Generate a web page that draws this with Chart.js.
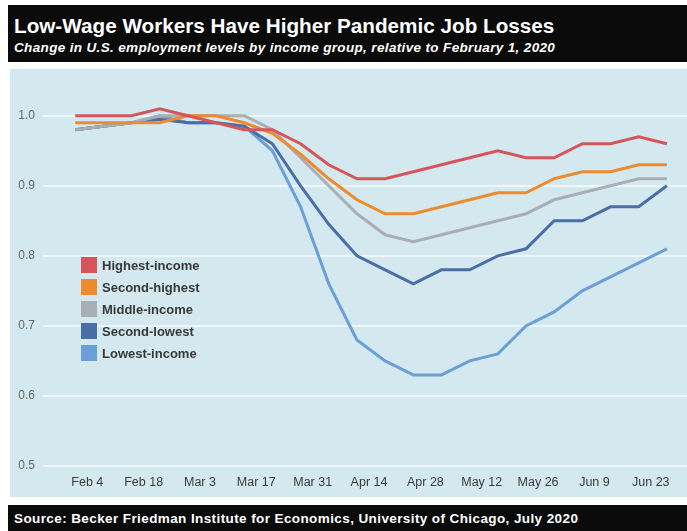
<!DOCTYPE html>
<html>
<head>
<meta charset="utf-8">
<script src="https://cdn.jsdelivr.net/npm/chart.js@4/dist/chart.umd.min.js"></script>
<style>
  body { margin: 0; width: 687px; height: 531px; background: #fff; position: relative; overflow: hidden; font-family: "Liberation Sans", Arial, sans-serif; }
  #header { position: absolute; left: 8px; top: 5px; width: 679px; height: 57px; background: #0b0b0b; color: #fff; }
  #title { position: absolute; left: 6px; top: 9px; font-size: 20.7px; font-weight: bold; white-space: nowrap; }
  #subtitle { position: absolute; left: 6px; top: 35px; font-size: 13.5px; font-weight: bold; font-style: italic; letter-spacing: 0.35px; white-space: nowrap; }
  #panel { position: absolute; left: 10px; top: 69px; width: 677px; height: 428px; background: #d4e9ef; }
  #wrap { position: absolute; left: 0; top: 69px; width: 687px; height: 428px; }
  #footer { position: absolute; left: 8px; top: 505px; width: 679px; height: 26px; background: #0b0b0b; color: #fff; }
  #source { position: absolute; left: 6px; top: 6px; font-size: 13.5px; font-weight: bold; letter-spacing: 0.4px; white-space: nowrap; }
</style>
</head>
<body>
<div id="header">
  <div id="title">Low-Wage Workers Have Higher Pandemic Job Losses</div>
  <div id="subtitle">Change in U.S. employment levels by income group, relative to February 1, 2020</div>
</div>
<div id="panel"></div>
<div id="wrap"><canvas id="jobChart" width="687" height="428"></canvas></div>
<div id="footer">
  <div id="source">Source: Becker Friedman Institute for Economics, University of Chicago, July 2020</div>
</div>
<script>
// weekly observations
const weekDates = ['2020-02-01', '2020-02-08', '2020-02-15', '2020-02-22', '2020-02-29', '2020-03-07',
    '2020-03-14', '2020-03-21', '2020-03-28', '2020-04-04', '2020-04-11', '2020-04-18', '2020-04-25',
    '2020-05-02', '2020-05-09', '2020-05-16', '2020-05-23', '2020-05-30', '2020-06-06', '2020-06-13',
    '2020-06-20', '2020-06-27'];

const tickDates = ['2020-02-04', '2020-02-18', '2020-03-03', '2020-03-17', '2020-03-31', '2020-04-14',
    '2020-04-28', '2020-05-12', '2020-05-26', '2020-06-09', '2020-06-23'];
const tickLabels = ['Feb 4', 'Feb 18', 'Mar 3', 'Mar 17', 'Mar 31', 'Apr 14', 'Apr 28', 'May 12', 'May 26', 'Jun 9', 'Jun 23'];

const seriesNames = ['Highest-income', 'Second-highest', 'Middle-income', 'Second-lowest', 'Lowest-income'];
const seriesColors = ['#d6555b', '#ef8a2d', '#a9aeb5', '#4a6ea5', '#6aa0d5'];

const highest = [1.00, 1.00, 1.00, 1.01, 1.00, 0.99, 0.98, 0.98, 0.96, 0.93, 0.91, 0.91, 0.92, 0.93, 0.94, 0.95, 0.94, 0.94, 0.96, 0.96, 0.97, 0.96];
const secondHighest = [0.99, 0.99, 0.99, 0.99, 1.00, 1.00, 0.99, 0.975, 0.945, 0.91, 0.88, 0.86, 0.86, 0.87, 0.88, 0.89, 0.89, 0.91, 0.92, 0.92, 0.93, 0.93];
const middle = [0.98, 0.985, 0.99, 1.00, 1.00, 1.00, 1.00, 0.98, 0.94, 0.90, 0.86, 0.83, 0.82, 0.83, 0.84, 0.85, 0.86, 0.88, 0.89, 0.90, 0.91, 0.91];
const secondLowest = [0.98, 0.985, 0.99, 0.995, 0.99, 0.99, 0.985, 0.96, 0.90, 0.845, 0.80, 0.78, 0.76, 0.78, 0.78, 0.80, 0.81, 0.85, 0.85, 0.87, 0.87, 0.90];
const lowest = [0.98, 0.985, 0.99, 1.00, 0.99, 0.99, 0.985, 0.95, 0.87, 0.76, 0.68, 0.65, 0.63, 0.63, 0.65, 0.66, 0.70, 0.72, 0.75, 0.77, 0.79, 0.81];

const yTicks = [0.5, 0.6, 0.7, 0.8, 0.9, 1.0];

const start = Date.UTC(2020, 1, 1);
function dayOf(s) {
    const p = s.split('-');
    return Math.round((Date.UTC(+p[0], +p[1] - 1, +p[2]) - start) / 86400000);
}

const tickDays = tickDates.map(dayOf);
const allSeries = [highest, secondHighest, middle, secondLowest, lowest];

const datasets = allSeries.map((vals, i) => ({
    label: seriesNames[i],
    data: vals.map((v, j) => ({ x: dayOf(weekDates[j]), y: v })),
    borderColor: seriesColors[i],
    backgroundColor: seriesColors[i],
    borderWidth: 3,
    pointRadius: 0,
    tension: 0
}));

// legend drawn inside the plot, left side
const boxLegend = {
    id: 'boxLegend',
    afterDatasetsDraw(chart) {
        const ctx = chart.ctx;
        ctx.save();
        ctx.font = 'bold 13px "Liberation Sans", Arial, sans-serif';
        ctx.textBaseline = 'middle';
        seriesNames.forEach((name, i) => {
            const y = 196 + i * 22;
            ctx.fillStyle = seriesColors[i];
            ctx.fillRect(81, y - 8, 16, 16);
            ctx.fillStyle = '#383838';
            ctx.fillText(name, 102, y + 1);
        });
        ctx.restore();
    }
};

const ctx = document.getElementById('jobChart').getContext('2d');
new Chart(ctx, {
    type: 'line',
    data: { datasets: datasets },
    options: {
        responsive: false,
        animation: false,
        layout: { padding: { top: 6, right: 0, left: 0, bottom: 0 } },
        plugins: { legend: { display: false }, tooltip: { enabled: false } },
        scales: {
            x: {
                type: 'linear',
                min: -8,
                max: 152,
                border: { display: false },
                grid: { display: false, drawTicks: false },
                afterBuildTicks: (scale) => { scale.ticks = tickDays.map(d => ({ value: d })); },
                afterFit: (scale) => { scale.height = 31; },
                ticks: {
                    autoSkip: false,
                    maxRotation: 0,
                    padding: 9,
                    color: '#3a3a3a',
                    font: { family: '"Liberation Sans", Arial, sans-serif', size: 12.5 },
                    callback: (v) => tickLabels[tickDays.indexOf(v)]
                }
            },
            y: {
                min: 0.5,
                max: 1.045,
                border: { display: false },
                grid: { color: 'rgba(255,255,255,0.6)', lineWidth: 2, drawTicks: false },
                afterBuildTicks: (scale) => { scale.ticks = yTicks.map(v => ({ value: v })); },
                afterFit: (scale) => { scale.width = 43; },
                ticks: {
                    padding: 8,
                    color: '#666',
                    font: { family: '"Liberation Sans", Arial, sans-serif', size: 12 },
                    callback: (v) => v.toFixed(1)
                }
            }
        }
    },
    plugins: [boxLegend]
});
</script>
</body>
</html>
